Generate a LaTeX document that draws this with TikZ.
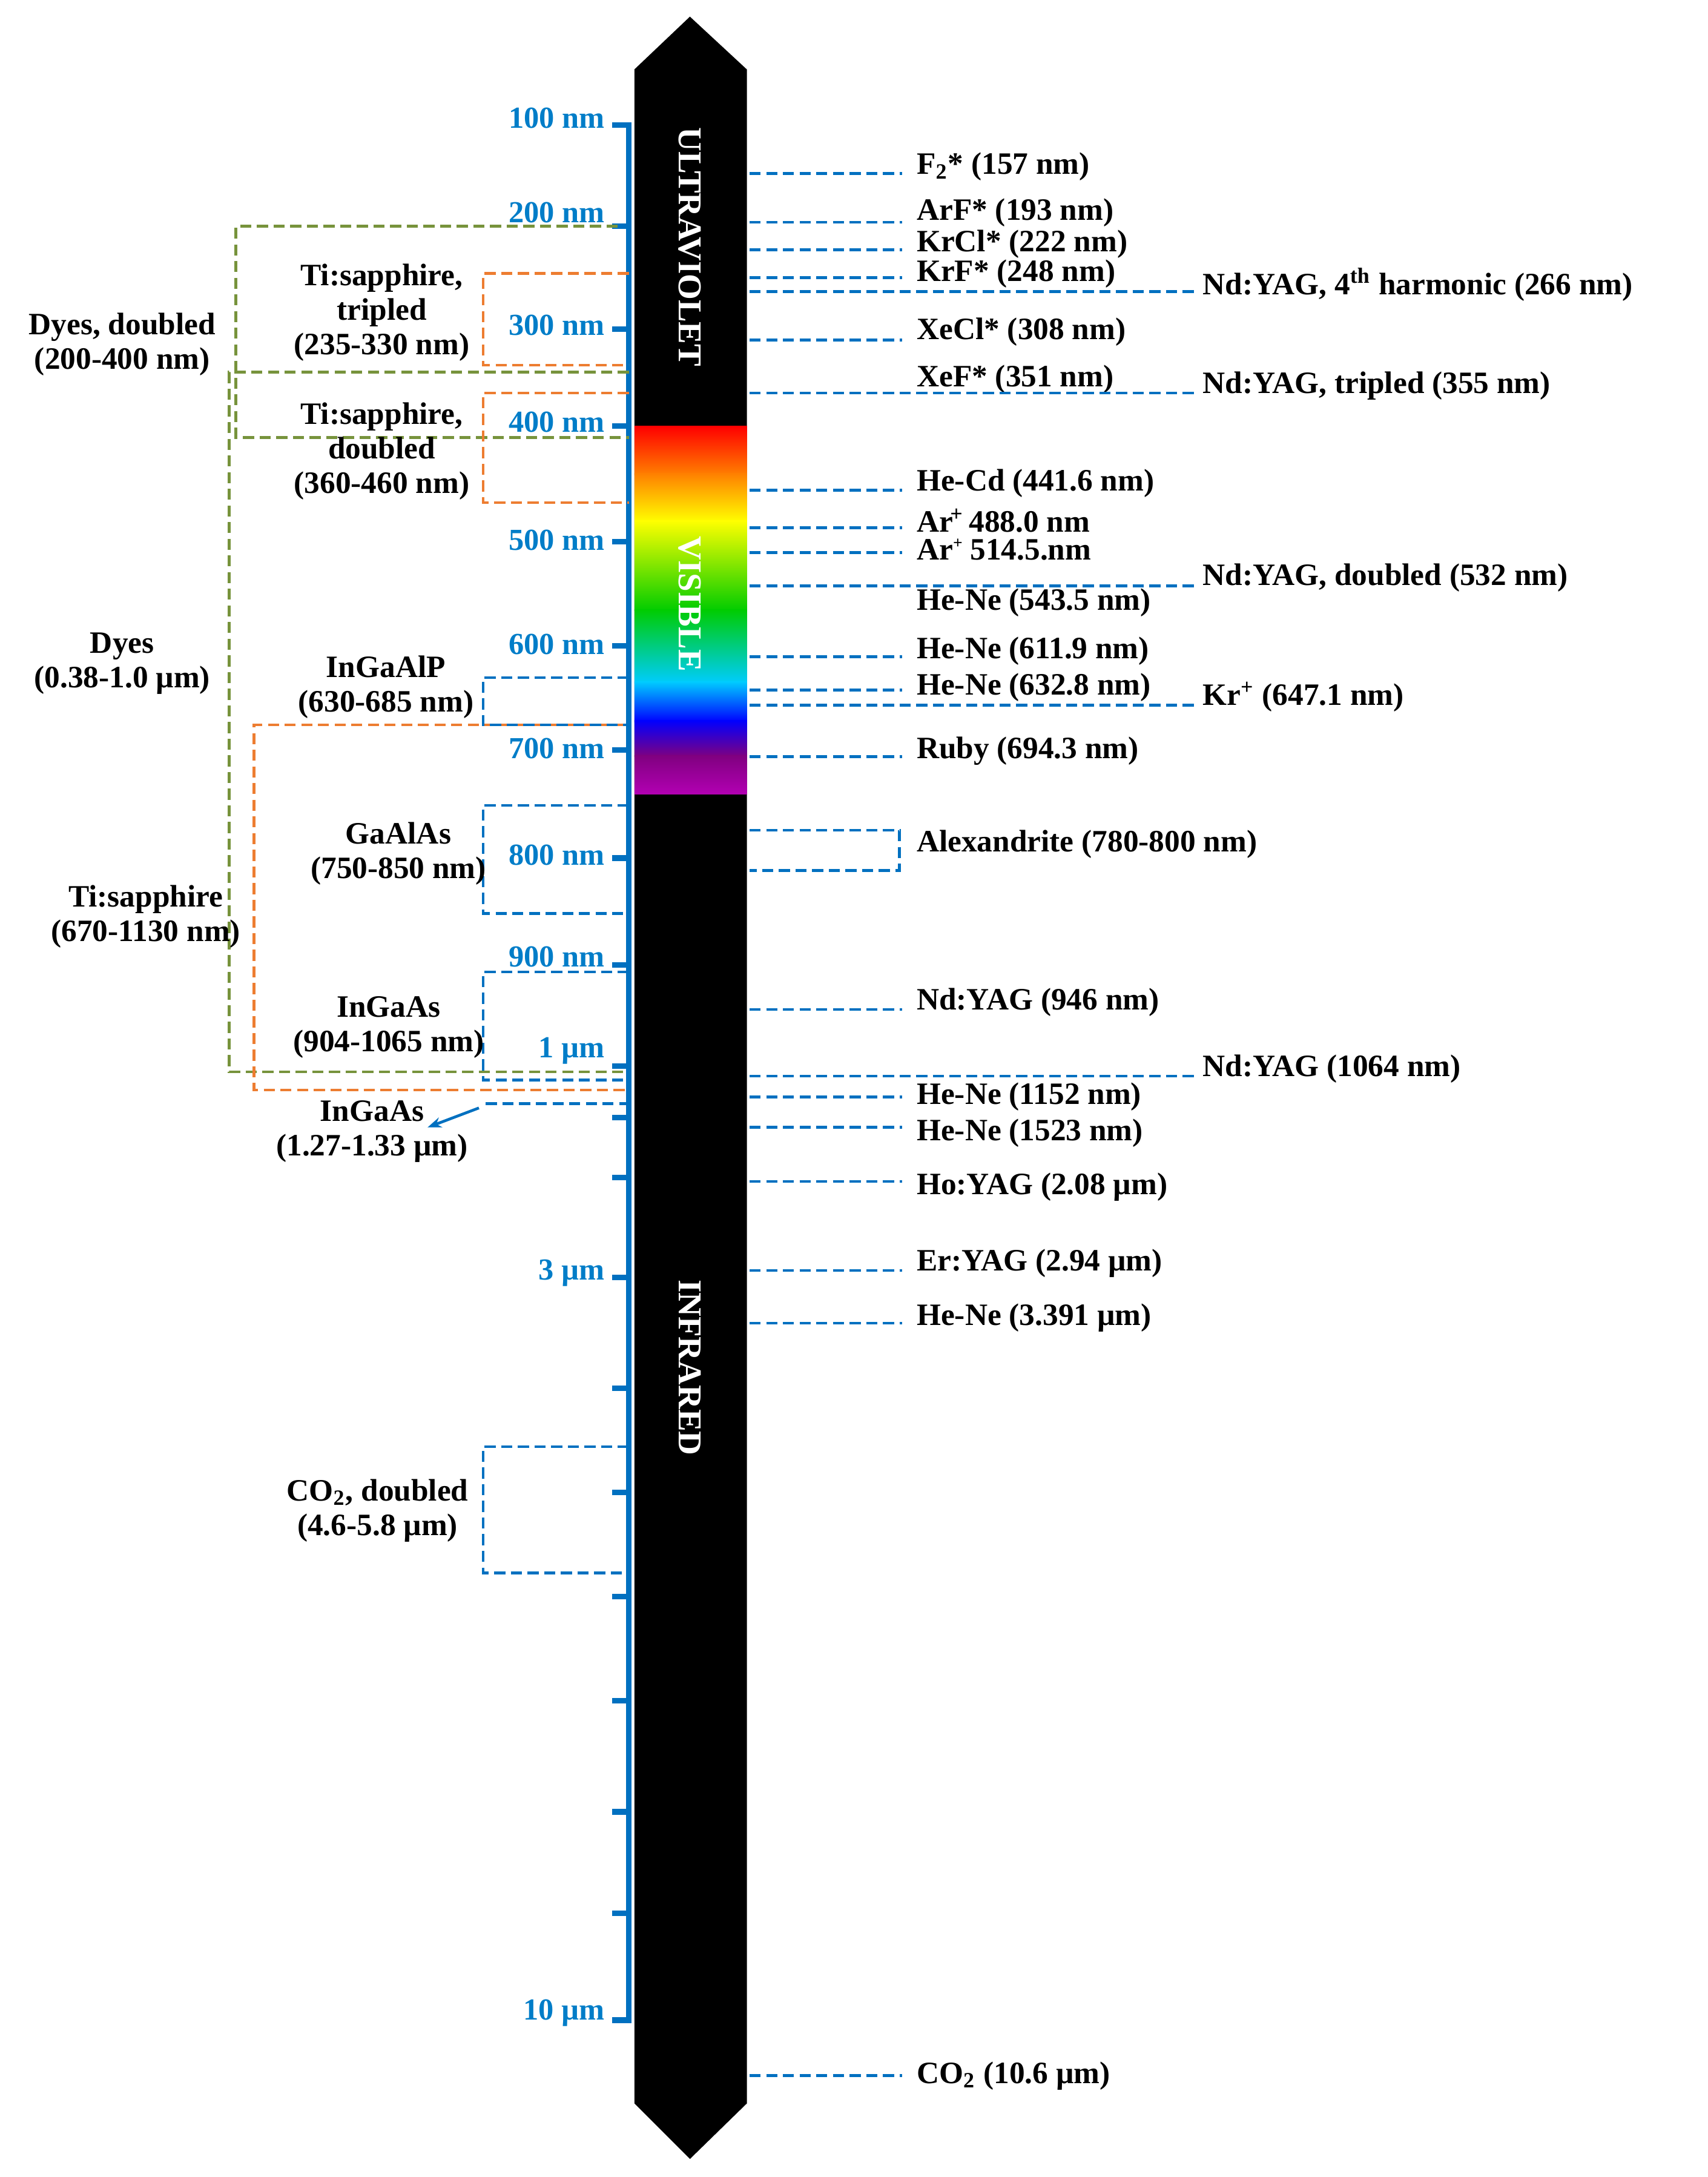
\documentclass[tikz,border=0pt]{standalone}
\usepackage{fontspec}
\setmainfont{Liberation Serif}
\usetikzlibrary{arrows.meta}
\definecolor{lb}{RGB}{0,112,192}
\definecolor{tb}{RGB}{0,125,200}
\definecolor{gr}{RGB}{119,147,60}
\definecolor{orr}{RGB}{237,125,49}
\begin{document}
\begin{tikzpicture}[x=0.5pt,y=-0.5pt,
 lab/.style={font=\fontsize{11.2}{12.4}\selectfont\bfseries,inner sep=1pt},
 tick/.style={font=\fontsize{11}{12}\selectfont\bfseries,text=tb,anchor=east,inner sep=1pt},
 bd/.style={draw=lb,line width=1pt,dash pattern=on 4pt off 2pt},
 gd/.style={draw=gr,line width=1pt,dash pattern=on 4pt off 2pt},
 od/.style={draw=orr,line width=1pt,dash pattern=on 4pt off 2pt},
 band/.style={font=\fontsize{12}{13}\selectfont\bfseries,text=white,rotate=-90}]
\useasboundingbox (0,0) rectangle (1230,1568);
\fill[white] (0,0) rectangle (1230,1568);
% bar
\fill[black] (497,12) -- (538,50) -- (538,1515) -- (497,1555) -- (457,1515) -- (457,50) -- cycle;
\shade[top color=red,bottom color=orange] (457,307) rectangle (538,342);
\shade[top color=orange,bottom color=yellow] (457,341) rectangle (538,376);
\shade[top color=yellow,bottom color=green!80!black] (457,375) rectangle (538,440);
\shade[top color=green!80!black,bottom color=cyan!80!blue] (457,439) rectangle (538,492);
\shade[top color=cyan!80!blue,bottom color=blue] (457,491) rectangle (538,520);
\shade[top color=blue,bottom color=violet] (457,519) rectangle (538,545);
\shade[top color=violet,bottom color=violet!60!magenta] (457,544) rectangle (538,572);
\node[band] (uv) at (497,178) {ULTRAVIOLET};
\node[band] (vis) at (497,435) {VISIBLE};
\node[band] (ir) at (497,985) {INFRARED};
% axis
\draw[lb,line width=2pt] (453,88) coordinate (ax1) -- (453,1457) coordinate (ax2);
\foreach \y in {90,163,237,307,390,465,540,618,695,768,805,848,920,1000,1075,1150,1225,1305,1378,1455}
  \draw[lb,line width=2pt] (441,\y) -- (453,\y);
\foreach \y/\t in {85/100 nm,153/200 nm,234/300 nm,304/400 nm,389/500 nm,464/600 nm,539/700 nm,616/800 nm,689/900 nm,757/1 µm,917/3 µm,1450/10 µm}
  \node[tick] at (438,\y) {\t};
% right lasers short
\foreach \y/\ly/\t in {125/120/{F\textsubscript{2}* (157 nm)},160/153/{ArF* (193 nm)},180/176/{KrCl* (222 nm)},200/197/{KrF* (248 nm)},245/239/{XeCl* (308 nm)},353/348/{He-Cd (441.6 nm)},473/469/{He-Ne (611.9 nm)},497/495/{He-Ne (632.8 nm)},545/541/{Ruby (694.3 nm)},727/722/{Nd:YAG (946 nm)},790/790/{He-Ne (1152 nm)},812/816/{He-Ne (1523 nm)},851/855/{Ho:YAG (2.08 µm)},915/910/{Er:YAG (2.94 µm)},953/949/{He-Ne (3.391 µm)},1495/1495/{CO\textsubscript{2} (10.6 µm)}}
 {\draw[bd] (540,\y) -- (650,\y);
  \node[lab,anchor=west] at (658,\ly) {\t};}
\draw[bd] (540,380) -- (650,380);
\draw[bd] (540,398) -- (650,398);
\node[lab,anchor=west] at (658,375) {Ar\textsuperscript{\kern-1pt+\kern-1pt} 488.0 nm};
\node[lab,anchor=west] at (658,396) {Ar\raisebox{0.8ex}{\fontsize{6}{6}\selectfont+} 514.5.nm};
\node[lab,anchor=west] at (658,273) {XeF* (351 nm)};
\node[lab,anchor=west] at (658,434) {He-Ne (543.5 nm)};
% long
\foreach \y/\ly/\t in {210/205/{Nd:YAG, 4\textsuperscript{th} harmonic (266 nm)},283/278/{Nd:YAG, tripled (355 nm)},422/416/{Nd:YAG, doubled (532 nm)},508/502/{Kr\textsuperscript{+} (647.1 nm)},775/770/{Nd:YAG (1064 nm)}}
 {\draw[bd] (540,\y) -- (860,\y);
  \node[lab,anchor=west] at (864,\ly) {\t};}
\draw[bd] (540,598) -- (648,598) -- (648,627) -- (540,627);
\node[lab,anchor=west] at (658,608) {Alexandrite (780-800 nm)};
% left brackets
\draw[gd] (445,163) -- (170,163) -- (170,315) -- (453,315);
\draw[gd] (453,268) -- (165,268) -- (165,772) -- (453,772);
\draw[od] (453,197) -- (348,197) -- (348,263) -- (453,263);
\draw[od] (453,283) -- (348,283) -- (348,362) -- (453,362);
\draw[od] (453,522) -- (183,522) -- (183,785) -- (453,785);
\draw[bd] (453,488) -- (348,488) -- (348,522) -- (453,522);
\draw[bd] (453,580) -- (348,580) -- (348,658) -- (453,658);
\draw[bd] (453,700) -- (348,700) -- (348,778) -- (453,778);
\draw[bd] (453,1042) -- (348,1042) -- (348,1133) -- (453,1133);
\draw[bd] (350,795) -- (453,795);
\draw[lb,line width=1pt,-{Stealth[length=5pt]}] (345,798) -- (308,812);
\node[lab,align=center] at (88,248) {Dyes, doubled\\(200-400 nm)};
\node[lab,align=center] at (88,478) {Dyes\\(0.38-1.0 µm)};
\node[lab,align=center] at (275,225) {Ti:sapphire,\\tripled\\(235-330 nm)};
\node[lab,align=center] at (275,325) {Ti:sapphire,\\doubled\\(360-460 nm)};
\node[lab,align=center] at (105,660) {Ti:sapphire\\(670-1130 nm)};
\node[lab,align=center] at (278,495) {InGaAlP\\(630-685 nm)};
\node[lab,align=center] at (287,615) {GaAlAs\\(750-850 nm)};
\node[lab,align=center] at (280,740) {InGaAs\\(904-1065 nm)};
\node[lab,align=center] at (268,815) {InGaAs\\(1.27-1.33 µm)};
\node[lab,align=center] at (272,1088) {CO\textsubscript{2}, doubled\\(4.6-5.8 µm)};
\end{tikzpicture}
\end{document}
